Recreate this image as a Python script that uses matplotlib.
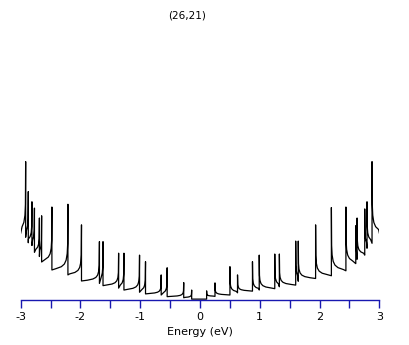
import matplotlib
matplotlib.use("Agg")
import matplotlib.pyplot as plt
from matplotlib.ticker import MultipleLocator

# van Hove singularities (energy in eV, DOS in arbitrary units)
# ordered from the gap outwards; floor = plateau level beyond each spike
E_NEG = [-0.14, -0.273, -0.55, -0.65, -0.912, -1.012, -1.273, -1.362, -1.623, -1.683,
         -1.983, -2.21, -2.478, -2.65, -2.687, -2.77, -2.812, -2.873, -2.917]
PEAK_NEG = [0.38, 0.65, 1.19, 0.93, 1.41, 1.65, 1.72, 1.72, 2.14, 2.14,
            2.75, 3.5, 3.4, 3.08, 3.0, 3.36, 3.59, 3.96, 5.05]
FLOOR_NEG = [0.1, 0.14, 0.2, 0.24, 0.3, 0.38, 0.45, 0.54, 0.62, 0.71,
             0.93, 1.11, 1.4, 1.6, 1.75, 2.0, 2.1, 2.3, 2.45]

E_POS = [0.11, 0.25, 0.50, 0.627, 0.877, 0.99, 1.25, 1.327, 1.60, 1.643,
         1.933, 2.197, 2.44, 2.605, 2.627, 2.755, 2.793, 2.877]
PEAK_POS = [0.35, 0.64, 1.23, 0.93, 1.41, 1.65, 1.69, 1.69, 2.16, 2.16,
            2.75, 3.38, 3.4, 2.72, 3.0, 3.33, 3.59, 5.05]
FLOOR_POS = [0.15, 0.2, 0.28, 0.34, 0.38, 0.43, 0.5, 0.56, 0.7, 0.8,
             0.9, 1.08, 1.34, 1.5, 1.65, 1.9, 2.08, 2.45]

GAP_LEVEL = 0.05
E_EDGE = 3.0
TITLE = "(26,21)"

# shape of the tail after each spike: (distance in eV, fraction of spike height)
TAIL = [(0.004, 0.4), (0.012, 0.25), (0.03, 0.15), (0.06, 0.09),
        (0.11, 0.05), (0.2, 0.02), (0.3, 0.0)]

plt.rcParams["axes.unicode_minus"] = False


def branch(energies, peaks, floors):
    xs, ys = [0.0], [GAP_LEVEL]
    prev = GAP_LEVEL
    for i, (e, p, f) in enumerate(zip(energies, peaks, floors)):
        nxt = energies[i + 1] if i + 1 < len(energies) else E_EDGE
        xs += [e, e]
        ys += [prev, p]
        for d, w in TAIL:
            if e + d < nxt:
                xs.append(e + d)
                ys.append(f + (p - f) * w)
        xs.append(nxt)
        ys.append(f)
        prev = f
    return xs, ys


xp, yp = branch(E_POS, PEAK_POS, FLOOR_POS)
xn, yn = branch([-e for e in E_NEG], PEAK_NEG, FLOOR_NEG)
xs = [-x for x in xn[::-1]] + xp
ys = yn[::-1] + yp

fig = plt.figure(figsize=(4.09, 3.45), dpi=100)
ax = fig.add_axes([0.0506, 0.129, 0.877, 0.797])
ax.plot(xs, ys, color="black", lw=0.9)
ax.set_xlim(-3, 3)
ax.set_ylim(0, 10)

blue = "#1818b0"
for s in ("left", "right", "top"):
    ax.spines[s].set_visible(False)
ax.spines["bottom"].set_color(blue)
ax.spines["bottom"].set_linewidth(1.0)
ax.set_yticks([])
ax.xaxis.set_major_locator(MultipleLocator(1))
ax.xaxis.set_minor_locator(MultipleLocator(0.5))
ax.tick_params(axis="x", which="both", direction="out", length=5.5, width=1.0,
               color=blue, labelsize=8, pad=2.5)
ax.set_xlabel("Energy (eV)", fontsize=8, labelpad=4)

fig.text(186.7 / 409, 1 - 15 / 345, TITLE, ha="center", va="center", fontsize=7.5)

fig.savefig("out.png", dpi=100)
